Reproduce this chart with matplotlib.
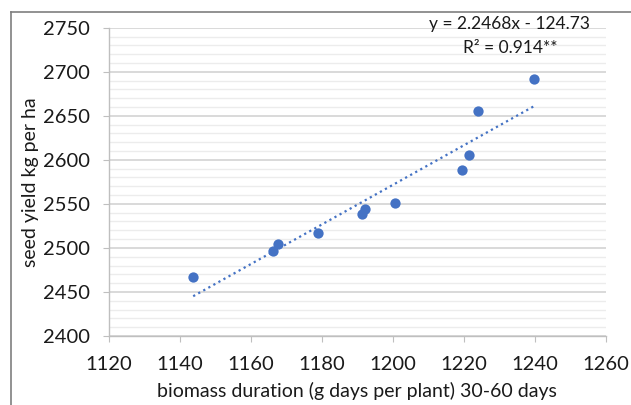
import matplotlib
matplotlib.use("Agg")
import matplotlib.pyplot as plt
from matplotlib.lines import Line2D
from matplotlib.ticker import MultipleLocator
import numpy as np

# biomass duration (x) and seed yield (y)
biomass = [1143.8, 1166.4, 1167.7, 1178.9, 1191.4, 1192.3, 1200.7, 1219.5, 1221.6, 1224.1, 1239.8]
seed_yield = [2467, 2497, 2504, 2517, 2538, 2544, 2551, 2588, 2606, 2655, 2692]

# trend line from the equation printed on the chart
slope = 2.2468
intercept = -124.73
eq_text = "y = 2.2468x - 124.73"
r2_text = "R² = 0.914**"

plt.rcParams['font.family'] = ['Lato', 'DejaVu Sans']

blue = '#4472C4'
txt = '#1a1a1a'
fig = plt.figure(figsize=(6.31, 4.05), dpi=100)
ax = fig.add_axes([0.1723, 0.1704, 0.7875, 0.7612])

# grid: light minor lines every 10, darker major every 50
ax.yaxis.set_major_locator(MultipleLocator(50))
ax.yaxis.set_minor_locator(MultipleLocator(10))
ax.xaxis.set_major_locator(MultipleLocator(20))
ax.grid(axis='y', which='major', color='#d0d0d0', linewidth=1.1)
ax.grid(axis='y', which='minor', color='#ececec', linewidth=1.0)
ax.set_axisbelow(True)

ax.scatter(biomass, seed_yield, s=55, color=blue, zorder=3, linewidths=0)

xs = np.array([min(biomass), max(biomass)])
ax.plot(xs, slope * xs + intercept, color=blue, linewidth=1.6,
        linestyle=(0, (1, 1.6)), zorder=2)

ax.set_xlim(1120, 1260)
ax.set_ylim(2400, 2750)

for s in ['top', 'right']:
    ax.spines[s].set_visible(False)
for s in ['left', 'bottom']:
    ax.spines[s].set_color('#bfbfbf')
    ax.spines[s].set_linewidth(1.0)

ax.tick_params(axis='both', which='major', length=4.5, color='#bfbfbf',
               labelsize=14.5, labelcolor=txt, pad=9)
ax.tick_params(axis='y', which='minor', length=0)
ax.tick_params(axis='x', pad=10)

ax.set_xlabel("biomass duration (g days per plant) 30-60 days", fontsize=14,
              color=txt, labelpad=6)
ax.set_ylabel("seed yield kg per ha", fontsize=14, color=txt, labelpad=3)

ax.text(1233, 2754, eq_text, ha='center', va='center', fontsize=12.5, color=txt)
ax.text(1233, 2727, r2_text, ha='center', va='center', fontsize=12.5, color=txt)

# outer frame of the chart area (cut off at right and bottom)
fig.add_artist(Line2D([11 / 631, 1], [1 - 12 / 405, 1 - 12 / 405], color='#7f7f7f', linewidth=1.2))
fig.add_artist(Line2D([11 / 631, 11 / 631], [0, 1 - 12 / 405], color='#7f7f7f', linewidth=1.2))

fig.savefig("out.png", dpi=100)
